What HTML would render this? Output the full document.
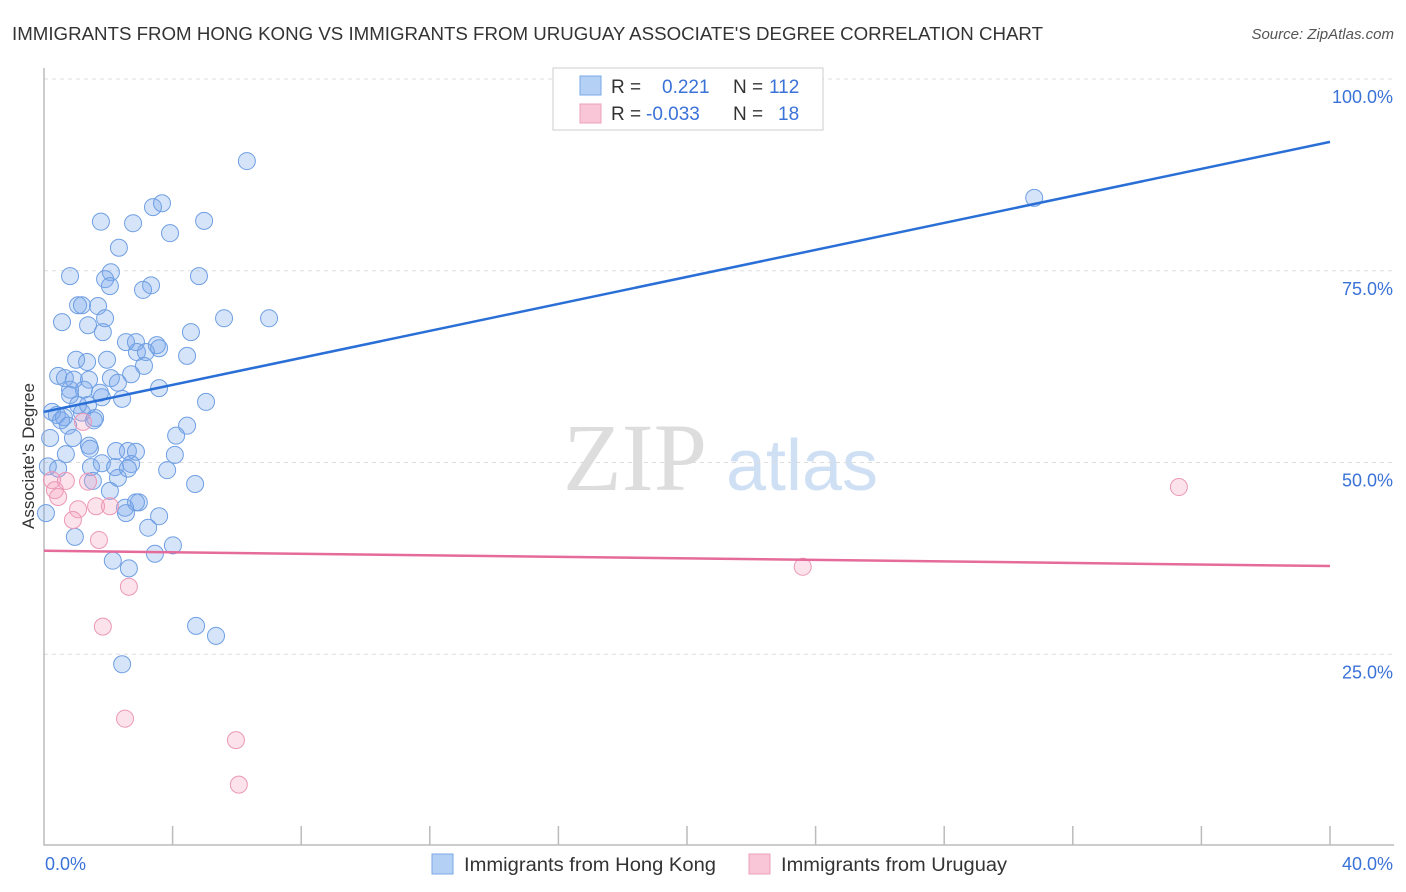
<!DOCTYPE html>
<html><head><meta charset="utf-8"><style>
body{margin:0;background:#fff;font-family:"Liberation Sans",sans-serif}
svg{display:block}
</style></head><body>
<svg id="chart" width="1406" height="892" xmlns="http://www.w3.org/2000/svg">
<text x="12" y="40" font-size="18" fill="#333" textLength="1031" lengthAdjust="spacingAndGlyphs">IMMIGRANTS FROM HONG KONG VS IMMIGRANTS FROM URUGUAY ASSOCIATE'S DEGREE CORRELATION CHART</text>
<text x="1394" y="39" font-size="15" fill="#555" font-style="italic" text-anchor="end">Source: ZipAtlas.com</text>
<g>
<text x="635" y="490" font-size="96" fill="#ddd" text-anchor="middle" font-family="Liberation Serif,serif">ZIP</text>
<text x="802" y="490" font-size="72" fill="#cfe0f4" text-anchor="middle">atlas</text>
</g>
<g id="grid"></g>
<g id="axes"></g>
<g id="pts"></g>
<g id="lines"></g>
<text transform="translate(34,456) rotate(-90)" font-size="17" fill="#333" text-anchor="middle">Associate's Degree</text>
<text x="45" y="870" font-size="18" fill="#3a72d8">0.0%</text>
<text x="1393" y="870" font-size="18" fill="#3a72d8" text-anchor="end">40.0%</text>
<g>
<rect x="553" y="68" width="270" height="62" fill="#fff" stroke="#ccc"/>
<rect x="580" y="76" width="21" height="19" fill="#b5d0f5" stroke="#7aa8e8"/>
<rect x="580" y="104" width="21" height="19" fill="#f8c6d6" stroke="#eda0bb"/>
<text x="611" y="93" font-size="19" fill="#333">R =</text>
<text x="662" y="93" font-size="19" fill="#3a72d8">0.221</text>
<text x="733" y="93" font-size="19" fill="#333">N =</text>
<text x="769" y="93" font-size="19" fill="#3a72d8">112</text>
<text x="611" y="120" font-size="19" fill="#333">R =</text>
<text x="646" y="120" font-size="19" fill="#3a72d8">-0.033</text>
<text x="733" y="120" font-size="19" fill="#333">N =</text>
<text x="778" y="120" font-size="19" fill="#3a72d8">18</text>
</g>
<g>
<rect x="432" y="854" width="21" height="20" fill="#b5d0f5" stroke="#7aa8e8"/>
<text x="464" y="871" font-size="19" fill="#333" textLength="252" lengthAdjust="spacingAndGlyphs">Immigrants from Hong Kong</text>
<rect x="749" y="854" width="21" height="20" fill="#f8c6d6" stroke="#eda0bb"/>
<text x="781" y="871" font-size="19" fill="#333" textLength="226" lengthAdjust="spacingAndGlyphs">Immigrants from Uruguay</text>
</g>
</svg>
<script>
const yTicks=[25,50,75,100];
const yTickLabels=["25.0%","50.0%","75.0%","100.0%"];
const blueX=[6.31,30.8,1.77,2.77,3.39,3.67,4.98,3.92,2.33,0.81,2.08,1.90,2.05,3.33,3.08,4.82,1.06,1.18,1.68,0.56,1.37,1.90,1.83,5.60,7.0,4.57,2.55,2.86,3.51,3.58,2.89,3.17,4.45,1.0,1.34,1.96,3.11,2.71,0.44,0.65,0.93,1.40,2.08,2.30,3.58,0.81,1.24,1.74,1.80,0.81,2.43,5.04,1.06,1.37,0.25,0.40,0.62,1.18,1.59,1.55,0.53,0.75,4.45,4.11,0.19,0.90,1.40,1.43,2.24,2.61,2.86,0.68,4.07,1.80,2.71,2.21,1.46,2.61,3.83,0.44,0.12,2.30,1.52,4.70,2.05,2.95,2.86,2.52,2.55,3.58,3.24,0.96,4.01,3.45,2.14,2.64,4.73,5.35,2.43,0.06];
const blueY=[89.3,84.5,81.4,81.2,83.3,83.8,81.5,79.9,78.0,74.3,74.8,73.9,73.0,73.1,72.5,74.3,70.5,70.5,70.4,68.3,67.9,68.8,67.0,68.8,68.8,67.0,65.7,65.7,65.3,64.9,64.4,64.4,63.9,63.4,63.1,63.4,62.6,61.5,61.3,61.0,60.8,60.8,61.0,60.4,59.7,59.5,59.5,59.1,58.5,58.8,58.3,57.9,57.5,57.5,56.6,56.2,55.9,56.5,55.8,55.5,55.5,54.8,54.8,53.5,53.2,53.2,52.2,51.8,51.5,51.5,51.4,51.1,51.0,49.9,49.8,49.4,49.4,49.2,49.0,49.2,49.5,48.0,47.6,47.2,46.3,44.8,44.8,44.1,43.4,43.0,41.5,40.3,39.2,38.1,37.2,36.2,28.7,27.4,23.7,43.4];
const pinkX=[35.3,23.6,0.25,0.34,0.68,0.44,1.37,1.06,1.62,2.05,0.90,1.71,1.21,2.64,1.83,2.52,5.97,6.06];
const pinkY=[46.8,36.4,47.7,46.4,47.6,45.5,47.5,43.9,44.3,44.3,42.5,39.9,55.3,33.8,28.6,16.6,13.8,8.0];
const blueTrend=[56.6,91.8];
const pinkTrend=[38.5,36.5];
const X0=44,X1=1330,Y0=846,PPY=7.67;
const sx=v=>X0+v/40*(X1-X0);
const sy=v=>Y0-v*PPY;
const NS="http://www.w3.org/2000/svg";
function mk(tag,attrs,parent){const e=document.createElementNS(NS,tag);for(const k in attrs)e.setAttribute(k,attrs[k]);parent.appendChild(e);return e;}
const grid=document.getElementById('grid'),axes=document.getElementById('axes'),pts=document.getElementById('pts'),lines=document.getElementById('lines');
yTicks.forEach((t,i)=>{
 const l=mk('line',{x1:X0,x2:1394,y1:sy(t),y2:sy(t),stroke:'#ddd','stroke-dasharray':'4,4'},grid);
 
 
 const tx=mk('text',{x:1393,y:sy(t)+24,'font-size':18,fill:'#3a72d8','text-anchor':'end'},grid);
 tx.textContent=yTickLabels[i];
 
 
});
const ax=mk('path',{d:`M${X0},68V845H1394`,fill:'none',stroke:'#bbb','stroke-width':1.5},axes);


for(let k=1;k<=10;k++){
 const x=X0+k*(X1-X0)/10;
 const t=mk('line',{x1:x,x2:x,y1:826,y2:845,stroke:'#bbb','stroke-width':1.5},axes);
 
 
}
blueX.forEach((v,i)=>{
 const c=mk('circle',{cx:sx(v),cy:sy(blueY[i]),r:8.5,fill:'rgba(120,165,235,0.3)',stroke:'#6f9fe3','stroke-width':1},pts);
 
 
});
pinkX.forEach((v,i)=>{
 const c=mk('circle',{cx:sx(v),cy:sy(pinkY[i]),r:8.5,fill:'rgba(245,160,190,0.3)',stroke:'#eb98b6','stroke-width':1},pts);
 
 
});
const bl=mk('line',{x1:sx(0),x2:sx(40),y1:sy(blueTrend[0]),y2:sy(blueTrend[1]),stroke:'#2a6fd6','stroke-width':2.5},lines);


const pl=mk('line',{x1:sx(0),x2:sx(40),y1:sy(pinkTrend[0]),y2:sy(pinkTrend[1]),stroke:'#e56b9a','stroke-width':2.5},lines);


</script>
</body></html>
